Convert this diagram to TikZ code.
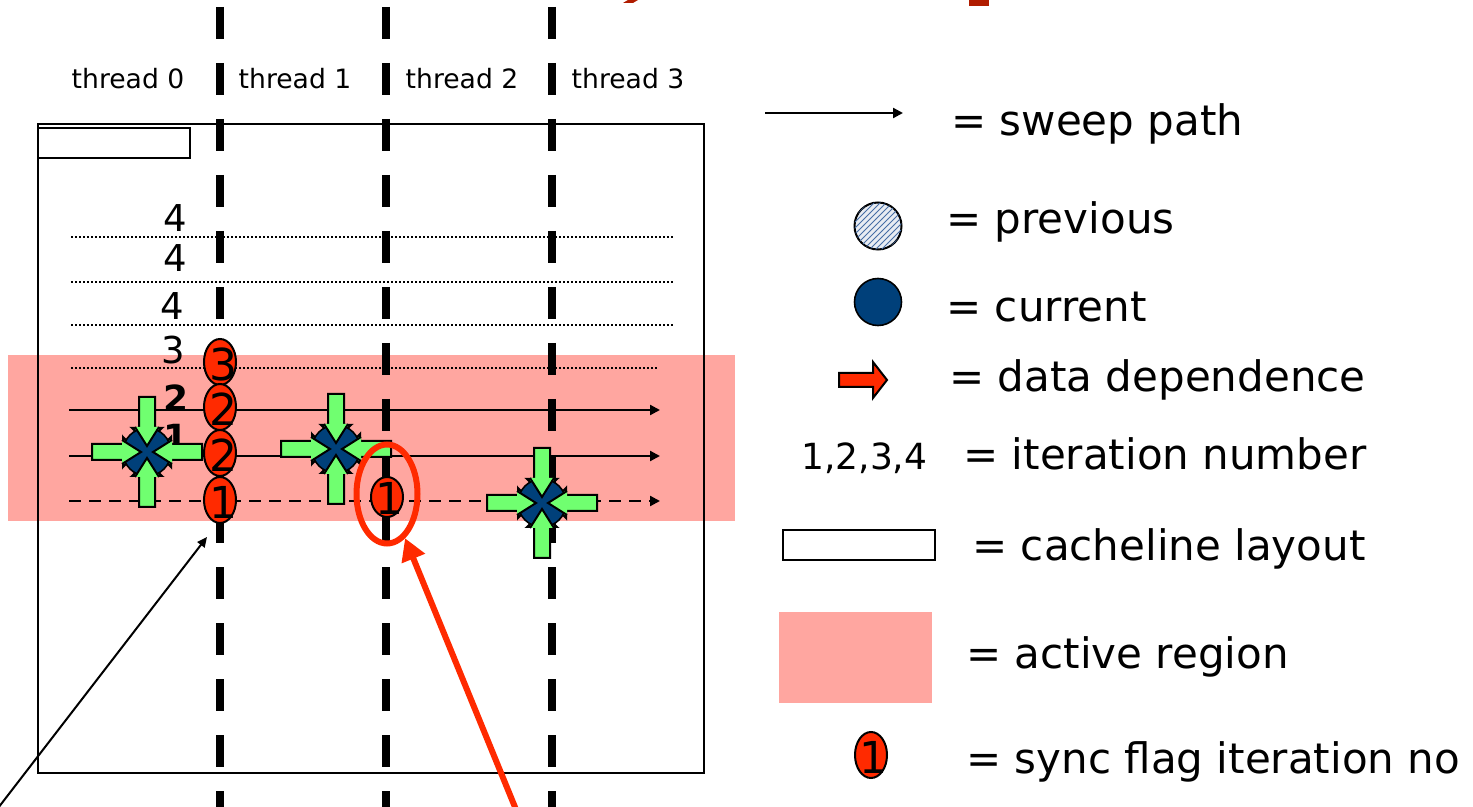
\documentclass[tikz,border=0pt]{standalone}
\usepackage{fontspec}
\setmainfont{DejaVu Sans}
\usetikzlibrary{arrows.meta,shapes.geometric,patterns}

\definecolor{activepink}{RGB}{255,166,160}
\definecolor{flagred}{RGB}{255,42,0}
\definecolor{curblue}{RGB}{0,64,122}
\definecolor{pushgreen}{RGB}{112,255,112}
\definecolor{titlered}{RGB}{176,28,0}
\definecolor{hatchblue}{RGB}{70,110,165}
\definecolor{hatchbg}{RGB}{232,236,242}

\tikzset{
  % block arrow pushing towards the current point (drawn beneath it)
  pics/pusharrow/.style={code={
    \draw[line width=1pt, fill=pushgreen, line join=miter]
      (-55,-8) -- (-24,-8) -- (-24,-15) -- (-10,0) -- (-24,15) -- (-24,8) -- (-55,8) -- cycle;
  }},
  % the arrow point that shows on top of the current point
  pics/pushtip/.style={code={
    \fill[pushgreen] (-25,-12) -- (-6,0) -- (-25,12) -- cycle;
    \draw[line width=1pt, line join=miter] (-25,-12) -- (-6,0) -- (-25,12);
  }}
}

\begin{document}
\begin{tikzpicture}[x=0.5pt,y=-0.5pt,
  threadsep/.style={line width=4pt, dash pattern=on 16pt off 12pt},
  iterline/.style={line width=1.1pt, dash pattern=on 1.1pt off 0.9pt},
  sweep/.style={line width=1.1pt, -{Triangle[length=5pt,width=5pt]}},
  sweepdash/.style={sweep, dash pattern=on 6pt off 4pt},
  threadlabel/.style={anchor=base, inner sep=0pt, font=\fontsize{13.3}{16}\selectfont},
  iternum/.style={inner sep=0pt, font=\fontsize{18.5}{22}\selectfont},
  iterbold/.style={inner sep=0pt, font=\fontsize{18}{22}\selectfont\bfseries},
  flag/.style={ellipse, draw, line width=1pt, fill=flagred, minimum width=16pt, minimum height=23pt, inner sep=0pt},
  flagnum/.style={inner sep=0pt, font=\fontsize{22}{26}\selectfont},
  cur/.style={circle, draw, line width=0.8pt, fill=curblue, minimum size=24pt, inner sep=0pt},
  ring/.style={ellipse, draw=flagred, line width=3pt, minimum width=30.5pt, minimum height=49.5pt, inner sep=0pt},
  redptr/.style={draw=flagred, line width=3pt, -{Triangle[length=11pt,width=12pt]}},
  blackptr/.style={line width=1pt, -{Triangle[length=5pt,width=4.5pt]}},
  legtext/.style={anchor=base west, inner sep=0pt, font=\fontsize{21}{25}\selectfont},
]
\useasboundingbox (0,0) rectangle (1473,807);

% pieces of the heading above
\fill[titlered] (628,0) -- (638,0) -- (633,3) -- (623,3) -- cycle;
\fill[titlered] (969,0) rectangle (989,6);

% active region and the swept array
\fill[activepink] (8,355) rectangle (735,521);
\draw[line width=1pt] (38,124) rectangle (704,773);
\draw[line width=1.2pt] (38,128) rectangle (190,158);

% thread boundaries
\foreach \x in {220,386,552} \draw[threadsep] (\x,7) -- (\x,830);

% thread labels
\node[threadlabel] (th0) at (128,89) {thread 0};
\node[threadlabel] (th1) at (295,89) {thread 1};
\node[threadlabel] (th2) at (462,89) {thread 2};
\node[threadlabel] (th3) at (628,89) {thread 3};

% finished rows
\draw[iterline] (71,237) -- (673,237);
\draw[iterline] (71,282) -- (673,282);
\draw[iterline] (71,325) -- (673,325);
\draw[iterline] (71,368) -- (657,368);

% sweep paths
\coordinate (s2a) at (69,410); \coordinate (s2b) at (660,410);
\coordinate (s1a) at (69,456); \coordinate (s1b) at (660,456);
\coordinate (s0a) at (69,501); \coordinate (s0b) at (660,501);
\draw[sweep] (s2a) -- (s2b);
\draw[sweep] (s1a) -- (s1b);
\draw[sweepdash] (s0a) -- (s0b);

% iteration numbers per row
\node[iternum] (n4a) at (175,218) {4};
\node[iternum] (n4b) at (175,258) {4};
\node[iternum] (n4c) at (172,306) {4};
\node[iternum] (n3) at (173,350) {3};
\node[iterbold] (n2) at (176,398) {2};
\node[iterbold] (n1) at (176,437) {1};

% sync flags
\node[flag] (fa) at (220,362) {};
\node[flagnum] (fan) at (223,364) {3};
\node[flag] (fb) at (220,407) {};
\node[flagnum] (fbn) at (223,409) {2};
\node[flag] (fc) at (220,453) {};
\node[flagnum] (fcn) at (223,455) {2};
\node[flag] (fd) at (220,500) {};
\node[flagnum] (fdn) at (223,502) {1};
\node[flag, minimum height=20pt] (fe) at (387,497) {};
\node[flagnum] (fen) at (389,498) {1};

% current positions with their dependences
\coordinate (p1) at (147,452);
\coordinate (p2) at (336,449);
\coordinate (p3) at (542,503);
\foreach \p in {p1,p2,p3} {
  \pic at (\p) {pusharrow};
  \pic[rotate=180] at (\p) {pusharrow};
  \pic[rotate=-90] at (\p) {pusharrow};
  \pic[rotate=90] at (\p) {pusharrow};
  \node[cur] (\p c) at (\p) {};
  \pic at (\p) {pushtip};
  \pic[rotate=180] at (\p) {pushtip};
  \pic[rotate=-90] at (\p) {pushtip};
  \pic[rotate=90] at (\p) {pushtip};
}

% highlighted flag and pointers
\node[ring] (hl) at (387,494) {};
\coordinate (rstart) at (517,812);
\draw[redptr] (rstart) -- (hl);
\coordinate (bstart) at (-5,812);
\coordinate (btip) at (207,537);
\draw[blackptr] (bstart) -- (btip);

% legend
\coordinate (lsa) at (765,113); \coordinate (lsb) at (903,113);
\draw[sweep] (lsa) -- (lsb);
\node[legtext] (t1) at (951,136) {= sweep path};

\node[circle, draw, line width=1pt, minimum size=23.5pt, inner sep=0pt, fill=hatchbg,
      postaction={pattern=north east lines, pattern color=hatchblue}] (lprev) at (878,226) {};
\node[legtext] (t2) at (946,234) {= previous};

\node[cur, minimum size=23.5pt] (lcur) at (878,302) {};
\node[legtext] (t3) at (946,322) {= current};

\draw[line width=1pt, fill=flagred, line join=miter]
  (839,373) -- (873,373) -- (873,362) -- (887,380) -- (873,398) -- (873,387) -- (839,387) -- cycle;
\node[legtext] (t4) at (949,392) {= data dependence};

\node[iternum, anchor=base west, font=\fontsize{18}{22}\selectfont] (t5a) at (801,470) {1,2,3,4};
\node[legtext] (t5) at (963,470) {= iteration number};

\draw[line width=1.2pt] (783,530) rectangle (935,560);
\node[legtext] (t6) at (972,560) {= cacheline layout};

\fill[activepink] (779,612) rectangle (932,703);
\node[legtext] (t7) at (966,668) {= active region};

\node[flag] (lflag) at (871,755) {};
\node[flagnum] (lflagn) at (873,757) {1};
\node[legtext] (t8) at (966,773) {= sync flag iteration no};
\end{tikzpicture}
\end{document}
